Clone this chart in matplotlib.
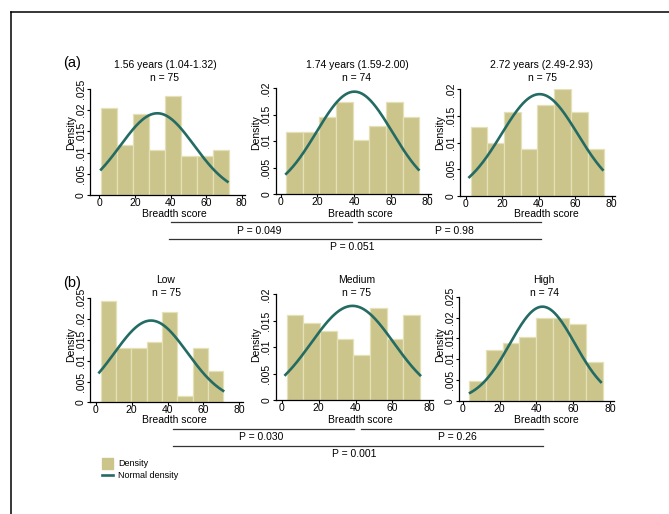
import numpy as np
import matplotlib.pyplot as plt
from matplotlib.lines import Line2D
from matplotlib.patches import Rectangle

plt.rcParams['font.family'] = ['Liberation Sans', 'DejaVu Sans']

# histogram bars: first bin edge, bin width, densities of the 8 bins
titles = ['1.56 years (1.04-1.32)', '1.74 years (1.59-2.00)', '2.72 years (2.49-2.93)',
          'Low', 'Medium', 'High']
n_obs = [75, 74, 75, 75, 75, 74]
bin_start = [1.0, 3.0, 2.7, 2.8, 2.7, 3.6]
bin_width = [9.0, 9.05, 9.16, 8.53, 9.03, 9.05]
dens_a1 = [0.0205, 0.0119, 0.0190, 0.0105, 0.0234, 0.0091, 0.0091, 0.0105]
dens_a2 = [0.0117, 0.0117, 0.0145, 0.0174, 0.0102, 0.0129, 0.0174, 0.0145]
dens_a3 = [0.0129, 0.0100, 0.0157, 0.0087, 0.0171, 0.0200, 0.0157, 0.0087]
dens_b1 = [0.0244, 0.0131, 0.0131, 0.0146, 0.0217, 0.0016, 0.0131, 0.0075]
dens_b2 = [0.0160, 0.0145, 0.0131, 0.0116, 0.0086, 0.0174, 0.0116, 0.0160]
dens_b3 = [0.0047, 0.0123, 0.0139, 0.0154, 0.0198, 0.0198, 0.0184, 0.0094]
densities = [dens_a1, dens_a2, dens_a3, dens_b1, dens_b2, dens_b3]

# normal density overlay: mean, sd and range of scores
norm_mean = [32.6, 40.1, 40.5, 30.8, 38.4, 43.3]
norm_sd = [20.7, 20.6, 20.9, 20.3, 22.4, 17.65]
score_min = [1, 3, 2, 2, 2, 4]
score_max = [72, 75, 75, 71, 75, 75]

y_max = [0.025, 0.02, 0.02, 0.025, 0.02, 0.025]
y_ticks = [[0, .005, .01, .015, .02, .025], [0, .005, .01, .015, .02], [0, .005, .01, .015, .02],
           [0, .005, .01, .015, .02, .025], [0, .005, .01, .015, .02], [0, .005, .01, .015, .02, .025]]

p_a = ['P = 0.049', 'P = 0.98', 'P = 0.051']
p_b = ['P = 0.030', 'P = 0.26', 'P = 0.001']

bar_col = '#cbc48b'
bar_edge = '#e4e0b8'
line_col = '#236b63'

W, H = 669, 514
def fx(x):
    return x / W
def fy(y):
    return 1 - y / H

fig = plt.figure(figsize=(W / 100, H / 100), dpi=100)

# pixel layout: left spine, x=0, x=80, baseline, top of y axis
layout = [(90, 99.3, 241.7, 195, 89), (275.7, 280.7, 427.7, 194, 88.3), (460, 465.7, 611.7, 195.7, 89.3),
          (90, 95.7, 239.3, 402.3, 298.3), (275.7, 281.7, 429.3, 400, 294.3), (459.3, 462.7, 610, 400.7, 296.7)]
title_x = [165, 357, 542, 166, 357, 544]
xlab_x = [174, 360.7, 546, 174, 360.7, 546]
ylab_x = [70.7, 256, 440, 70.7, 256, 440]

def fmt(v):
    s = '%g' % v
    return s[1:] if s.startswith('0.') else s

for i in range(6):
    left, zero, eighty, base, top = layout[i]
    pu = (eighty - zero) / 80
    xmin = -(zero - left) / pu
    xmax = 82
    ax = fig.add_axes([fx(left), fy(base), (xmax - xmin) * pu / W, (base - top) / H])
    edges = bin_start[i] + bin_width[i] * np.arange(8)
    ax.bar(edges, densities[i], width=bin_width[i], align='edge', color=bar_col,
           edgecolor=bar_edge, linewidth=0.9)
    xs = np.linspace(score_min[i], score_max[i], 200)
    ys = np.exp(-0.5 * ((xs - norm_mean[i]) / norm_sd[i]) ** 2) / (norm_sd[i] * np.sqrt(2 * np.pi))
    ax.plot(xs, ys, color=line_col, lw=1.9)
    ax.set_xlim(xmin, xmax)
    ax.set_ylim(0, y_max[i])
    ax.set_xticks([0, 20, 40, 60, 80])
    ax.set_yticks(y_ticks[i])
    ax.set_yticklabels([fmt(v) for v in y_ticks[i]], rotation=90, va='center')
    ax.tick_params(labelsize=7.5, length=2.2, width=0.8)
    ax.tick_params(axis='x', pad=0)
    ax.tick_params(axis='y', pad=1)
    for s in ['top', 'right']:
        ax.spines[s].set_visible(False)
    for s in ['left', 'bottom']:
        ax.spines[s].set_linewidth(0.9)
    ax.patch.set_visible(False)

    ty = 65 if i < 3 else 280
    fig.text(fx(title_x[i]), fy(ty), titles[i], ha='center', va='center', fontsize=7.5)
    fig.text(fx(title_x[i]), fy(ty + 13), 'n = %d' % n_obs[i], ha='center', va='center', fontsize=7.5)
    xly = 213.5 if i < 3 else 420
    fig.text(fx(xlab_x[i]), fy(xly), 'Breadth score', ha='center', va='center', fontsize=7.5)
    yly = 133 if i < 3 else 345
    fig.text(fx(ylab_x[i]), fy(yly), 'Density', ha='center', va='center', rotation=90, fontsize=7.5)

fig.text(fx(72), fy(63), '(a)', ha='center', va='center', fontsize=10.5)
fig.text(fx(72), fy(283), '(b)', ha='center', va='center', fontsize=10.5)

# comparison brackets
def hline(x0, x1, y):
    fig.add_artist(Line2D([fx(x0), fx(x1)], [fy(y), fy(y)], color='#333333', lw=0.9))

hline(170.7, 351.7, 221.7)
hline(358.3, 540.7, 221.7)
hline(169.3, 540.7, 239.3)
fig.text(fx(259), fy(230.7), p_a[0], ha='center', va='center', fontsize=7.5)
fig.text(fx(454), fy(230.7), p_a[1], ha='center', va='center', fontsize=7.5)
fig.text(fx(352), fy(246.7), p_a[2], ha='center', va='center', fontsize=7.5)

hline(172.7, 354.3, 429)
hline(361, 543.3, 429)
hline(172.7, 543.3, 446)
fig.text(fx(261), fy(437.3), p_b[0], ha='center', va='center', fontsize=7.5)
fig.text(fx(457.7), fy(437.3), p_b[1], ha='center', va='center', fontsize=7.5)
fig.text(fx(354.3), fy(454.3), p_b[2], ha='center', va='center', fontsize=7.5)

# legend
fig.add_artist(Rectangle((fx(102.3), fy(469.3)), (112.7 - 102.3) / W, 11 / H, color=bar_col,
                         transform=fig.transFigure))
fig.add_artist(Line2D([fx(102.3), fx(112.7)], [fy(475.3), fy(475.3)], color=line_col, lw=1.9))
fig.text(fx(118), fy(463.5), 'Density', ha='left', va='center', fontsize=6.5)
fig.text(fx(118), fy(475.3), 'Normal density', ha='left', va='center', fontsize=6.5)

# outer frame (left and top edges only visible)
fig.add_artist(Line2D([fx(11.3), fx(11.3)], [0, fy(11.5)], color='black', lw=1.1))
fig.add_artist(Line2D([fx(11.3), 1], [fy(11.5), fy(11.5)], color='black', lw=1.1))

fig.savefig('out.png', dpi=100)
